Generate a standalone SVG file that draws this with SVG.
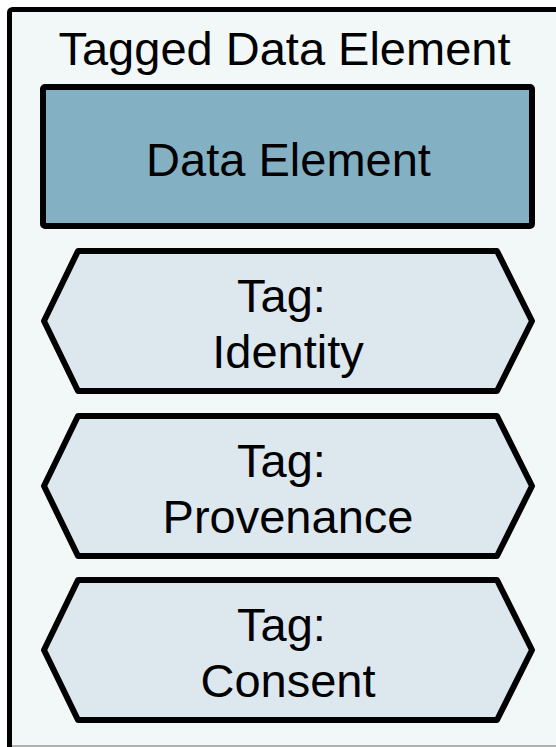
<svg xmlns="http://www.w3.org/2000/svg" width="556" height="747" viewBox="0 0 556 747">
<style>
  .lbl { font-family: "Liberation Sans", Arial, sans-serif; font-size: 47px; fill: #000; text-anchor: middle; }
  .hex { fill: #dde7ee; stroke: #000; stroke-width: 6; stroke-linejoin: round; }
</style>
<rect width="556" height="747" fill="#ffffff"/>
<g id="container">
  <rect x="9.5" y="9.5" width="600" height="760" rx="3" fill="#f2f7f8" stroke="#000" stroke-width="5"/>
  <line x1="12" y1="746" x2="556" y2="746" stroke="#9a9a9a" stroke-width="1.5"/>
  <text class="lbl" x="284.5" y="65">Tagged Data Element</text>
</g>
<g id="data-element">
  <rect x="43" y="87" width="489" height="139" rx="2" fill="#84b0c4" stroke="#000" stroke-width="6"/>
  <text class="lbl" x="288.5" y="176">Data Element</text>
</g>
<g id="tag-identity">
  <polygon class="hex" points="78,251 497,251 532,321 497,391 78,391 44,321"/>
  <text class="lbl" x="281.5" y="312">Tag:</text>
  <text class="lbl" x="288" y="368">Identity</text>
</g>
<g id="tag-provenance">
  <polygon class="hex" points="78,416 497,416 532,486 497,556 78,556 44,486"/>
  <text class="lbl" x="281.5" y="477">Tag:</text>
  <text class="lbl" x="288" y="533">Provenance</text>
</g>
<g id="tag-consent">
  <polygon class="hex" points="78,580 497,580 532,650 497,720 78,720 44,650"/>
  <text class="lbl" x="281.5" y="641">Tag:</text>
  <text class="lbl" x="288" y="697">Consent</text>
</g>
<g id="connectors"></g>
</svg>
